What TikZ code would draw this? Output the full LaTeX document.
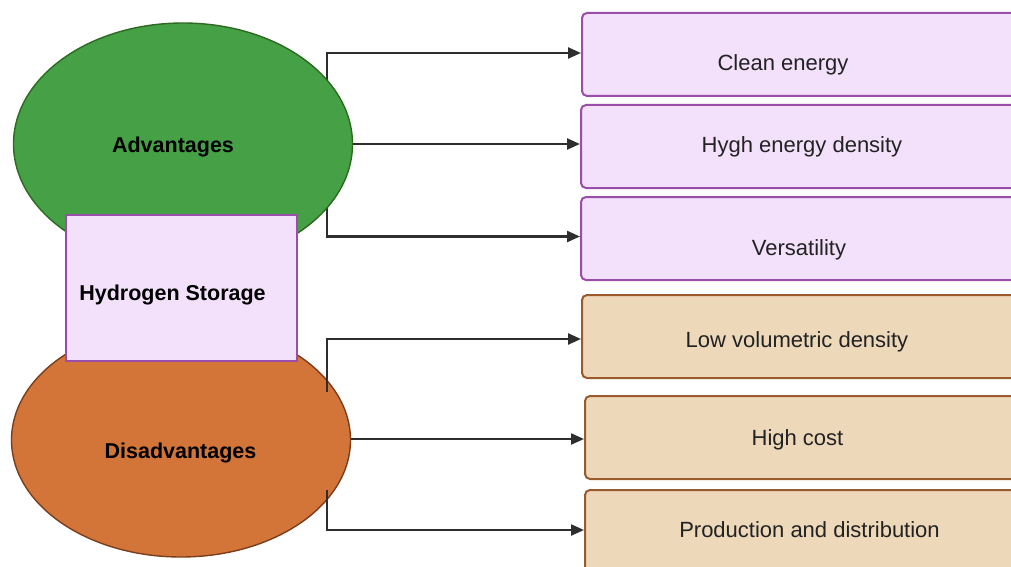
\documentclass[tikz,border=0pt]{standalone}
\usepackage{fontspec}
\setmainfont{Liberation Sans}
\usetikzlibrary{shapes.geometric,arrows.meta}
\definecolor{advfill}{HTML}{45A046}
\definecolor{advline}{HTML}{2C6A22}
\definecolor{disfill}{HTML}{D37439}
\definecolor{disline}{HTML}{7A3E1C}
\definecolor{lilac}{HTML}{F3E0FA}
\definecolor{lilacline}{HTML}{9A4DAA}
\definecolor{sand}{HTML}{EDD8BA}
\definecolor{sandline}{HTML}{9A5A2C}
\definecolor{wire}{HTML}{2E2E2E}
\definecolor{ink}{HTML}{222222}
\tikzset{
  blob/.style={ellipse, draw, line width=1.4pt, inner sep=0pt,
    minimum width=339pt},
  hub/.style={draw=lilacline, fill=lilac, line width=2pt, inner sep=0pt,
    minimum width=231pt, minimum height=146pt, anchor=north west},
  item/.style={draw, rounded corners=5pt, line width=2pt, inner sep=0pt,
    minimum width=470pt, minimum height=83pt, anchor=north west},
  pro/.style={item, draw=lilacline, fill=lilac},
  con/.style={item, draw=sandline, fill=sand},
  link/.style={draw=wire, line width=2.3pt, -{Triangle[length=13pt,width=11pt]}},
  bigtxt/.style={font=\fontsize{21.5}{26}\selectfont\bfseries, anchor=base, inner sep=0pt},
  smalltxt/.style={font=\fontsize{22}{26}\selectfont, text=ink, anchor=base, inner sep=0pt}
}
\begin{document}
\begin{tikzpicture}[x=1pt,y=-1pt]
\useasboundingbox (0,0) rectangle (1011,567);
\clip (0,0) rectangle (1011,567);
\fill[white] (0,0) rectangle (1011,567);

% list items on the right
\node[pro] (b1) at (581,12) {};
\node[pro] (b2) at (580,104) {};
\node[pro] (b3) at (580,196) {};
\node[con] (b4) at (581,294) {};
\node[con] (b5) at (584,395) {};
\node[con] (b6) at (584,489) {};

% advantage branches (start hidden under the green ellipse)
\coordinate (ga) at (327,100);
\coordinate (gb) at (327,190);
\draw[link] (ga) |- ([yshift=1.5pt]b1.west);
\draw[link] (gb) |- ([yshift=2pt]b3.west);

% the two ellipses
\node[blob, draw=advline, fill=advfill, minimum height=242pt] (adv) at (183,144) {};
\node[blob, draw=disline, fill=disfill, minimum height=234pt] (dis) at (181,440) {};

\draw[link] (adv.east) -- (adv.east -| b2.west);

% disadvantage branches
\coordinate (oa) at (327,392);
\coordinate (ob) at (327,490);
\draw[link] (oa) |- ([yshift=-2.5pt]b4.west);
\draw[link] ([yshift=1pt]dis.east) -- ([yshift=1pt]dis.east -| b5.west);
\draw[link] (ob) |- ([yshift=1.5pt]b6.west);

% central box
\node[hub] (hs) at (65,214) {};

% labels
\node[bigtxt] (tadv) at (173,152) {Advantages};
\node[bigtxt] (ths) at (172.5,300) {Hydrogen Storage};
\node[bigtxt] (tdis) at (180.5,458) {Disadvantages};

\node[smalltxt] (t1) at (783,71) {Clean energy};
\node[smalltxt] (t2) at (802,152) {Hygh energy density};
\node[smalltxt] (t3) at (799,255) {Versatility};
\node[smalltxt] (t4) at (797,347) {Low volumetric density};
\node[smalltxt] (t5) at (797.5,445) {High cost};
\node[smalltxt] (t6) at (809.5,537) {Production and distribution};
\end{tikzpicture}
\end{document}
